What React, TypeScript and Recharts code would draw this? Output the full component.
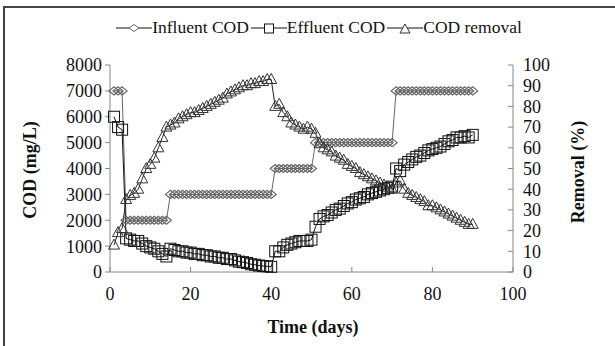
import { LineChart, Line, XAxis, YAxis } from 'recharts';

// COD over 90 days of operation
const influentCod = [
  7000, 7000, 7000,
  2000, 2000, 2000, 2000, 2000, 2000, 2000, 2000, 2000, 2000, 2000,
  3000, 3000, 3000, 3000, 3000, 3000, 3000, 3000, 3000, 3000, 3000, 3000, 3000,
  3000, 3000, 3000, 3000, 3000, 3000, 3000, 3000, 3000, 3000, 3000, 3000, 3000,
  4000, 4000, 4000, 4000, 4000, 4000, 4000, 4000, 4000, 4000,
  5000, 5000, 5000, 5000, 5000, 5000, 5000, 5000, 5000, 5000,
  5000, 5000, 5000, 5000, 5000, 5000, 5000, 5000, 5000, 5000,
  7000, 7000, 7000, 7000, 7000, 7000, 7000, 7000, 7000, 7000,
  7000, 7000, 7000, 7000, 7000, 7000, 7000, 7000, 7000, 7000,
];

const effluentCod = [
  6000, 5600, 5500,
  1300, 1250, 1200, 1200, 1100, 1000, 950, 900, 800, 700, 600,
  900, 850, 800, 800, 750, 750, 700, 700, 650, 650, 600, 600, 550,
  550, 500, 500, 450, 400, 380, 350, 300, 280, 250, 230, 220, 200,
  800, 800, 950, 1050, 1100, 1150, 1200, 1200, 1200, 1250,
  1750, 2050, 2150, 2200, 2300, 2400, 2450, 2550, 2650, 2700,
  2800, 2850, 2900, 3000, 3050, 3100, 3150, 3200, 3250, 3300,
  4000, 3900, 4150, 4250, 4350, 4450, 4500, 4600, 4700, 4750,
  4800, 4850, 4950, 5050, 5100, 5200, 5200, 5250, 5200, 5300,
];

const removalPct = [
  13, 19, 21,
  35, 37, 38, 40, 45, 50, 52, 55, 60, 65, 70,
  71, 72, 74, 75, 76, 77, 77, 78, 79, 80, 81, 82, 83,
  84, 86, 87, 88, 89, 90, 90, 91, 91, 92, 92, 93, 93,
  80, 81, 77, 75, 72, 71, 70, 69, 70, 69,
  67, 62, 60, 59, 58, 56, 55, 54, 52, 51,
  50, 48, 47, 46, 45, 44, 43, 42, 41, 40,
  43, 44, 40, 38, 37, 36, 35, 34, 32, 32,
  31, 30, 29, 28, 27, 26, 25, 24, 23, 23,
];

const xTicks = [0, 20, 40, 60, 80, 100];
const codTicks = [0, 1000, 2000, 3000, 4000, 5000, 6000, 7000, 8000];
const pctTicks = [0, 10, 20, 30, 40, 50, 60, 70, 80, 90, 100];

const data = influentCod.map((v, i) => ({
  day: i + 1,
  influent: v,
  effluent: effluentCod[i],
  removal: removalPct[i],
}));

const FONT = '"Liberation Serif", "Times New Roman", serif';
const tickStyle = { fontFamily: FONT, fontSize: 18, fill: '#111' };

const Diamond = (p: any) => (
  <polygon
    key={`d-${p.index}`}
    points={`${p.cx - 5},${p.cy} ${p.cx},${p.cy - 4} ${p.cx + 5},${p.cy} ${p.cx},${p.cy + 4}`}
    fill="none"
    stroke="#666"
    strokeWidth={1.2}
  />
);

const Square = (p: any) => (
  <rect key={`s-${p.index}`} x={p.cx - 5.5} y={p.cy - 5.5} width={11} height={11} fill="none" stroke="#111" strokeWidth={1} />
);

const Triangle = (p: any) => (
  <polygon
    key={`t-${p.index}`}
    points={`${p.cx},${p.cy - 6} ${p.cx + 5.5},${p.cy + 4} ${p.cx - 5.5},${p.cy + 4}`}
    fill="none"
    stroke="#333"
    strokeWidth={1}
  />
);

const legendItems = [
  { label: 'Influent COD', color: '#666', shape: 'diamond' },
  { label: 'Effluent COD', color: '#111', shape: 'square' },
  { label: 'COD removal', color: '#333', shape: 'triangle' },
];

function LegendBox() {
  return (
    <div
      style={{
        position: 'absolute',
        left: 0,
        top: 17,
        width: 640,
        display: 'flex',
        justifyContent: 'center',
        alignItems: 'center',
        fontFamily: FONT,
        fontSize: 17.5,
        color: '#111',
      }}
    >
      {legendItems.map((it) => (
        <span key={it.label} style={{ display: 'inline-flex', alignItems: 'center', marginRight: 2 }}>
          <svg width={36} height={16}>
            <line x1={0} y1={8} x2={36} y2={8} stroke="#111" strokeWidth={1} />
            {it.shape === 'diamond' && <polygon points="13,8 18,4.5 23,8 18,11.5" fill="white" stroke={it.color} />}
            {it.shape === 'square' && <rect x={13.5} y={4} width={9} height={9} fill="white" stroke={it.color} />}
            {it.shape === 'triangle' && <polygon points="18,4 23,13 13,13" fill="white" stroke={it.color} />}
          </svg>
          <span>{it.label}</span>
        </span>
      ))}
    </div>
  );
}

const titleStyle: React.CSSProperties = {
  position: 'absolute',
  fontFamily: FONT,
  fontSize: 18,
  fontWeight: 'bold',
  color: '#111',
  whiteSpace: 'nowrap',
};

export default function App() {
  return (
    <div style={{ position: 'absolute', left: 0, top: 0, width: 615, height: 346, background: '#fff', overflow: 'hidden' }}>
      <div style={{ position: 'absolute', left: 3, top: 6, width: 640, height: 360, borderTop: '2px solid #444', borderLeft: '2px solid #444' }} />
      <LineChart width={615} height={346} data={data} margin={{ top: 65, right: 52, bottom: 44, left: 60 }}>
        <XAxis
          dataKey="day"
          type="number"
          domain={[0, 100]}
          ticks={xTicks}
          height={30}
          tick={tickStyle}
          tickSize={-5}
          tickMargin={20}
          stroke="#888"
        />
        <YAxis
          yAxisId="left"
          domain={[0, 8000]}
          ticks={codTicks}
          width={50}
          tick={tickStyle}
          tickSize={5}
          tickMargin={3}
          stroke="#888"
          interval={0}
        />
        <YAxis
          yAxisId="right"
          orientation="right"
          domain={[0, 100]}
          ticks={pctTicks}
          width={50}
          tick={{ ...tickStyle, textAnchor: 'start' }}
          tickSize={-5}
          tickMargin={15}
          stroke="#888"
          interval={0}
        />
        <Line yAxisId="left" dataKey="influent" name="Influent COD" stroke="#666" strokeWidth={1} dot={Diamond} isAnimationActive={false} />
        <Line yAxisId="left" dataKey="effluent" name="Effluent COD" stroke="#111" strokeWidth={1} dot={Square} isAnimationActive={false} />
        <Line yAxisId="right" dataKey="removal" name="COD removal" stroke="#222" strokeWidth={1} dot={Triangle} isAnimationActive={false} />
      </LineChart>
      <LegendBox />
      <div style={{ ...titleStyle, left: 30, top: 170, transform: 'translate(-50%, -50%) rotate(-90deg)' }}>COD (mg/L)</div>
      <div style={{ ...titleStyle, left: 578, top: 172, transform: 'translate(-50%, -50%) rotate(-90deg)' }}>Removal (%)</div>
      <div style={{ ...titleStyle, left: 313, top: 327, transform: 'translate(-50%, -50%)' }}>Time (days)</div>
    </div>
  );
}
